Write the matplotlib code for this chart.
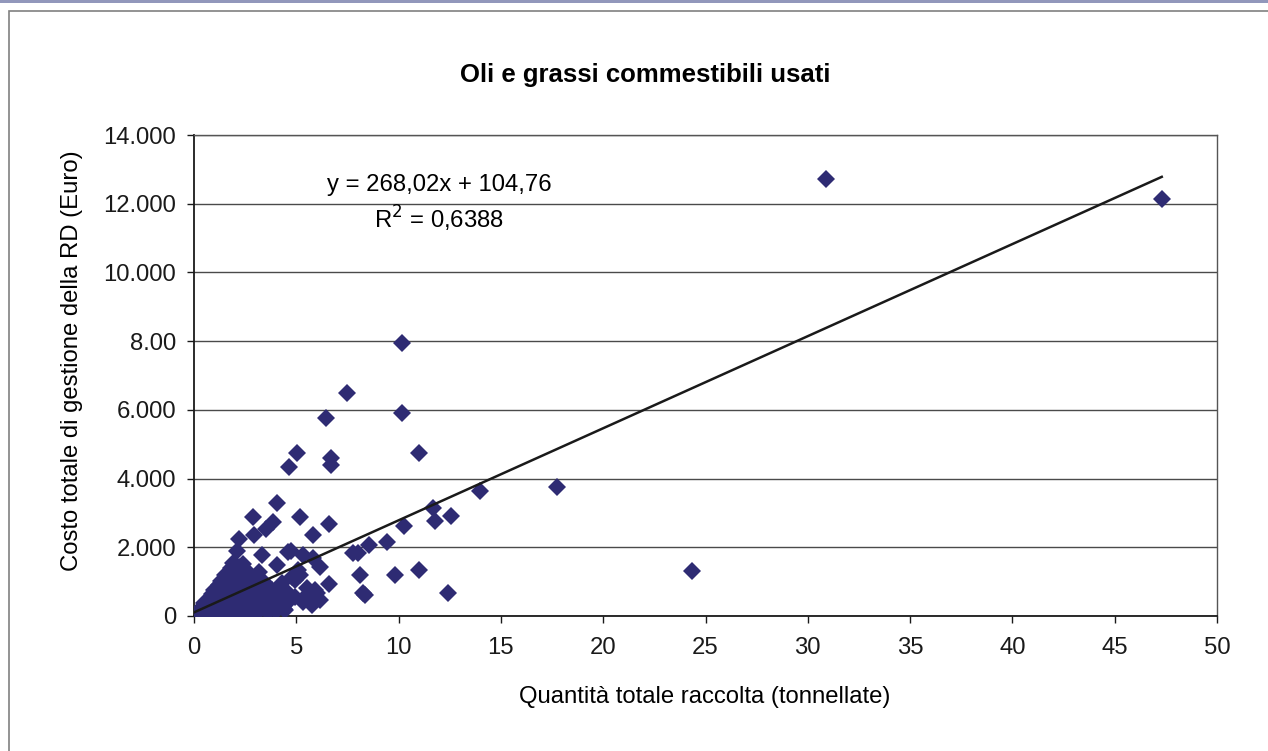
import matplotlib.pyplot as plt
from matplotlib.patches import Rectangle
from matplotlib.ticker import FixedLocator

plt.rcParams['font.family'] = ['Liberation Sans', 'DejaVu Sans']

# Comuni: quantità raccolta (t) e costo totale (Euro)
qty_main = [47.3, 30.9, 24.36, 17.76, 14.0, 11.66, 11.78, 12.56, 12.43, 10.15,
            10.15, 11.0, 10.27, 10.98, 9.82, 9.42, 8.57, 8.03, 7.79, 8.11,
            8.25, 8.36, 7.46, 6.44, 6.70, 6.70, 5.05, 4.64, 4.07, 2.90,
            3.88, 3.52, 5.18, 6.60, 2.93, 2.21, 5.83, 2.09, 3.34, 4.73,
            5.31, 5.83, 6.16, 5.18, 4.94, 6.60, 5.51, 5.91, 5.99, 5.51,
            5.34, 6.16, 5.75, 4.53, 3.71, 4.45, 4.29, 4.77, 5.10, 4.60,
            3.86, 4.94, 4.45, 3.50, 4.04]
cost_main = [12130, 12720, 1310, 3760, 3630, 3130, 2775, 2920, 680, 7950,
             5900, 4745, 2610, 1330, 1190, 2145, 2080, 1825, 1840, 1190,
             660, 610, 6480, 5775, 4605, 4395, 4750, 4330, 3300, 2890,
             2745, 2535, 2890, 2680, 2360, 2230, 2360, 1900, 1775, 1900,
             1775, 1700, 1435, 1195, 1050, 930, 805, 760, 660, 610,
             420, 465, 330, 370, 225, 760, 950, 1145, 1340, 1870,
             400, 550, 175, 175, 1480]

# piccoli comuni, concentrati vicino all'origine
qty_small = [0.02, 0.1, 0.2, 0.35, 0.5, 0.7, 0.9, 1.1, 1.3, 1.5, 1.7, 1.9, 2.1, 2.3,
             2.6, 2.9, 3.2, 3.6, 4.0, 4.4,
             0.2, 0.4, 0.6, 0.8, 1.0, 1.2, 1.4, 1.6, 1.8, 2.0, 2.2, 2.4, 2.7,
             3.0, 3.3, 3.7, 4.1,
             0.5, 0.7, 0.9, 1.1, 1.3, 1.5, 1.7, 1.9, 2.1, 2.3, 2.5, 2.8, 3.1,
             3.5, 3.9, 4.3,
             0.9, 1.0, 1.2, 1.4, 1.6, 1.8, 2.0, 2.2, 2.4, 2.7, 3.0, 3.4, 3.8,
             1.2, 1.3, 1.5, 1.7, 1.9, 2.1, 2.3, 2.6, 3.0, 3.4,
             1.5, 1.7, 1.9, 2.1, 2.3, 2.6, 3.2,
             1.8, 2.0, 2.2, 2.4, 1.9]
cost_small = [10, 30, 20, 40, 30, 50, 40, 60, 50, 80, 60, 90, 70, 100,
              80, 120, 150, 110, 160, 190,
              150, 220, 260, 230, 280, 250, 300, 260, 310, 270, 320, 280, 330,
              300, 260, 340, 300,
              380, 460, 520, 480, 540, 500, 560, 510, 570, 520, 600, 540, 610,
              560, 620, 500,
              650, 760, 720, 800, 740, 820, 760, 840, 780, 860, 820, 880, 760,
              900, 1020, 980, 1060, 1000, 1080, 1020, 1100, 1050, 1000,
              1180, 1260, 1220, 1300, 1240, 1320, 1280,
              1400, 1480, 1420, 1500, 1550]

# retta di tendenza lineare
slope = 268.02
intercept = 104.76
r_squared = 0.6388

y_ticks = [0, 2000, 4000, 6000, 8000, 10000, 12000, 14000]
y_labels = ['0', '2.000', '4.000', '6.000', '8.00', '10.000', '12.000', '14.000']
x_ticks = [0, 5, 10, 15, 20, 25, 30, 35, 40, 45, 50]

W, H = 1268, 751
fs = 17.2
fig = plt.figure(figsize=(W / 100, H / 100), dpi=100)
ax = fig.add_axes([194 / W, 1 - 616 / H, (1217 - 194) / W, (616 - 135) / H])

# cornice della pagina
fig.patches.append(Rectangle((0, 1 - 3 / H), 1, 3 / H, transform=fig.transFigure,
                             facecolor='#9297bb', edgecolor='none'))
fig.patches.append(Rectangle((9 / W, -0.05), 1.1, 1.05 - 11 / H, transform=fig.transFigure,
                             facecolor='none', edgecolor='#808080', linewidth=1.2))

all_x = qty_main + qty_small
all_y = cost_main + cost_small
ax.plot(all_x, all_y, linestyle='none', marker='D', markersize=9.3,
        color='#2e2b73', markeredgewidth=0, zorder=3)

x_max = max(all_x)
ax.plot([0, x_max], [intercept, slope * x_max + intercept], color='#1a1a1a',
        linewidth=1.8, zorder=4)

ax.text(11.97, 12544, 'y = 268,02x + 104,76', ha='center', va='center', fontsize=fs)
ax.text(11.97, 11554, 'R$^2$ = 0,6388', ha='center', va='center', fontsize=fs)

ax.set_xlim(0, 50)
ax.set_ylim(0, 14000)
ax.xaxis.set_major_locator(FixedLocator(x_ticks))
ax.set_xticklabels([str(t) for t in x_ticks])
ax.set_yticks(y_ticks)
ax.set_yticklabels(y_labels)
ax.tick_params(axis='both', direction='out', length=5, width=1, labelsize=fs,
               colors='#1a1a1a')
ax.tick_params(axis='x', pad=10)
ax.tick_params(axis='y', pad=8)
ax.grid(axis='y', color='#4a4a4a', linewidth=1)
ax.set_axisbelow(True)
for side in ['left', 'bottom']:
    ax.spines[side].set_color('#1a1a1a')
    ax.spines[side].set_linewidth(1.3)
for side in ['top', 'right']:
    ax.spines[side].set_color('#555555')
    ax.spines[side].set_linewidth(1)

fig.text(645 / W, 1 - 75 / H, 'Oli e grassi commestibili usati', ha='center',
         va='center', fontsize=18.5, fontweight='bold')
fig.text(705 / W, 1 - 697 / H, 'Quantità totale raccolta (tonnellate)', ha='center',
         va='center', fontsize=fs)
fig.text(72 / W, 1 - 361 / H, 'Costo totale di gestione della RD (Euro)', ha='center',
         va='center', rotation=90, fontsize=fs)

fig.savefig('out.png', dpi=100)
